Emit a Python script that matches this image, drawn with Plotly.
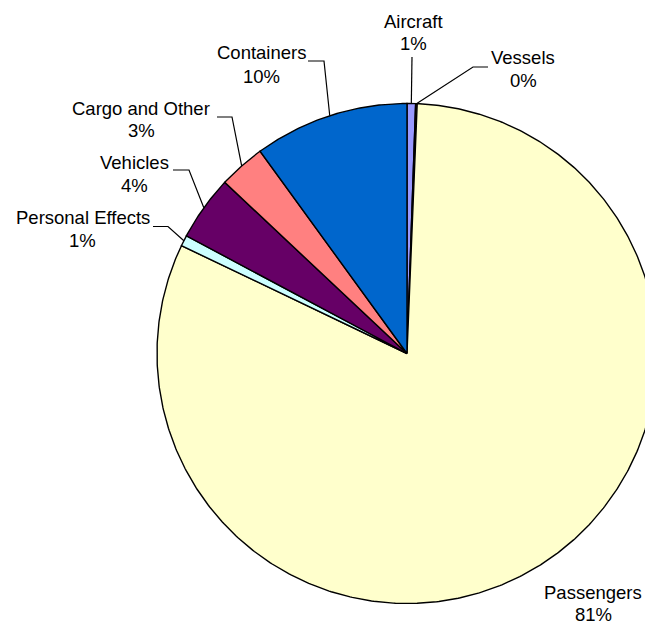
import numpy as np
import plotly.graph_objects as go

# Share of seizures by category, in drawing order (clockwise from 12 o'clock)
categories = ["Aircraft", "Vessels", "Passengers", "Personal Effects",
              "Vehicles", "Cargo and Other", "Containers"]
values = [0.55, 0.1, 81.45, 0.7, 4.2, 3.0, 10.0]
colors = ["#9999FF", "#993366", "#FFFFCC", "#CCFFFF",
          "#660066", "#FF8080", "#0066CC"]

# Canvas in pixel units
W, H = 645, 626
CX, CY, R = 407.0, 353.5, 250.0

# Label placement: (x centre, name line y, percent line y)
label_pos = {
    "Aircraft": (413.5, 21.5, 43.5),
    "Vessels": (523.0, 57.0, 80.0),
    "Passengers": (593.0, 592.0, 614.5),
    "Personal Effects": (82.5, 217.0, 240.0),
    "Vehicles": (134.0, 162.0, 185.0),
    "Cargo and Other": (141.0, 108.5, 130.0),
    "Containers": (261.0, 52.5, 76.0),
}
# Leader lines: elbow point and end point next to the label
leaders = {
    "Aircraft": [(412.0, 57.0)],
    "Vessels": [(473.0, 67.0), (488.0, 67.0)],
    "Containers": [(324.0, 61.0), (308.0, 61.0)],
    "Cargo and Other": [(232.0, 117.0), (217.0, 117.0)],
    "Vehicles": [(189.0, 170.0), (173.0, 170.0)],
    "Personal Effects": [(168.0, 226.5), (153.0, 226.5)],
}

FONT = dict(family="Liberation Sans, Arial, sans-serif", size=18.5, color="black")


def pt(angle_deg, r=R):
    a = np.radians(angle_deg)
    return CX + r * np.sin(a), CY - r * np.cos(a)


fig = go.Figure()
total = float(sum(values))
start = 0.0
mids = {}
for name, v, c in zip(categories, values, colors):
    span = 360.0 * v / total
    end = start + span
    n = max(2, int(span * 2) + 2)
    t = np.linspace(start, end, n)
    xs, ys = pt(t)
    px = np.concatenate([[CX], xs, [CX]])
    py = np.concatenate([[CY], ys, [CY]])
    fig.add_trace(go.Scatter(
        x=px, y=py, mode="lines", fill="toself", fillcolor=c,
        line=dict(color="black", width=1.4), hoverinfo="skip", showlegend=False,
    ))
    mids[name] = (start + end) / 2.0
    start = end

annotations = []
for name, v in zip(categories, values):
    pct = 100.0 * v / total
    x, y1, y2 = label_pos[name]
    annotations.append(dict(x=x, y=y1, text=name, showarrow=False,
                            xanchor="center", yanchor="middle", font=FONT))
    annotations.append(dict(x=x, y=y2, text=f"{pct:.0f}%", showarrow=False,
                            xanchor="center", yanchor="middle", font=FONT))
    if name in leaders:
        ex, ey = pt(mids[name])
        lx = [ex] + [p[0] for p in leaders[name]]
        ly = [ey] + [p[1] for p in leaders[name]]
        fig.add_trace(go.Scatter(x=lx, y=ly, mode="lines",
                                 line=dict(color="black", width=1.2),
                                 hoverinfo="skip", showlegend=False))

fig.update_layout(
    width=W, height=H,
    margin=dict(l=0, r=0, t=0, b=0),
    paper_bgcolor="white", plot_bgcolor="white",
    xaxis=dict(range=[0, W], visible=False, fixedrange=True),
    yaxis=dict(range=[H, 0], visible=False, fixedrange=True),
    annotations=annotations,
)

fig.write_html("out.html")
